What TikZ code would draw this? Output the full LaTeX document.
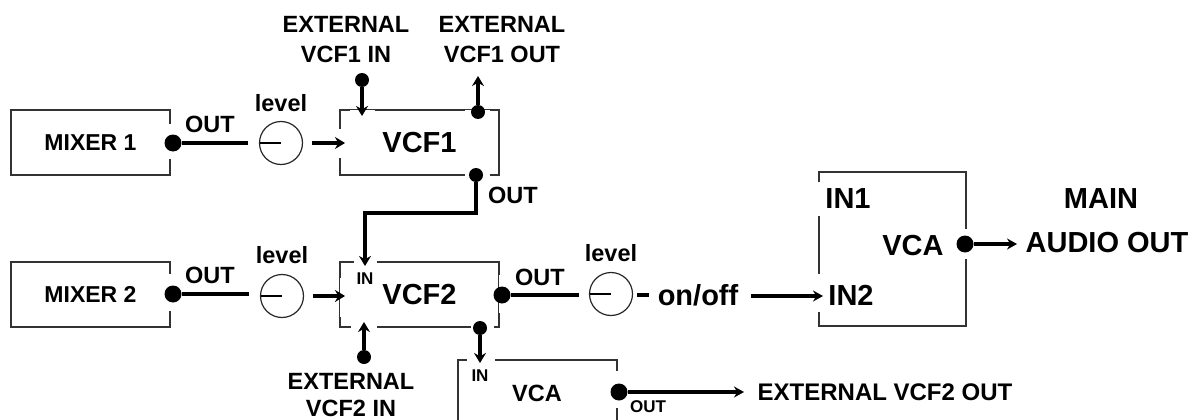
\documentclass[tikz,border=0pt]{standalone}
\usepackage{fontspec}
\setmainfont{Liberation Sans}
\usetikzlibrary{arrows.meta, positioning, shapes.geometric}

\begin{document}
\begin{tikzpicture}[
  x=1pt, y=-1pt,
  node distance=10pt,
  box/.style={
    rectangle, draw=black!80, line width=1.3pt,
    inner sep=0pt, outer sep=0pt,
    minimum width=159pt, minimum height=65pt,
    align=center, font=\bfseries\fontsize{23}{27}\selectfont
  },
  big/.style={inner sep=0pt, font=\bfseries\fontsize{29}{34}\selectfont},
  lab/.style={inner sep=0pt, align=center, font=\bfseries\fontsize{23.5}{30}\selectfont},
  tiny/.style={inner sep=0pt, font=\bfseries\fontsize{17}{20}\selectfont},
  knob/.style={circle, draw=black!85, line width=1.2pt, minimum size=43pt, inner sep=0pt, outer sep=0pt},
  dot/.style={circle, fill=black, minimum size=17pt, inner sep=0pt, outer sep=0pt},
  pin/.style={dot, minimum size=14pt},
  gap/.style={draw=white, line width=3pt},
  wire/.style={line width=4.6pt},
  arr/.style={-{Stealth[length=10pt, width=12pt]}, line width=4pt},
  thin arr/.style={-{Stealth[length=10pt, width=11pt]}, line width=3.4pt}
]
  \clip (0,0) rectangle (1194,420);

  % boxes
  \node[box] (mix1) at (90.5,142.5) {MIXER 1};
  \node[box, right=170pt of mix1] (vcf1) {\fontsize{29}{34}\selectfont VCF1};
  \node[box, below=87pt of mix1]  (mix2) {MIXER 2};
  \node[box, below=87pt of vcf1]  (vcf2) {\fontsize{29}{34}\selectfont VCF2};
  \node[box, minimum width=147pt, minimum height=154pt] (vca) at (892.5,249) {};
  \node[box, minimum height=100pt] (vcasub) at (537.5,410) {};

  % openings in the frames
  \draw[gap] (mix1.east |- 0,124) -- (mix1.east |- 0,159);
  \draw[gap] (mix2.east |- 0,274) -- (mix2.east |- 0,311);
  \draw[gap] (340,129) -- (340,158);
  \draw[gap] (350,111) -- (375,111);
  \draw[gap] (465,111) -- (490,111);
  \draw[gap] (465,175) -- (490,175);
  \draw[gap] (341,278) -- (341,317);
  \draw[gap] (354,262) -- (377,262);
  \draw[gap] (500,275) -- (500,313);
  \draw[gap] (351,327) -- (377,327);
  \draw[gap] (471,327) -- (494,327);
  \draw[gap] (467,360) -- (495,360);
  \draw[gap] (617,371) -- (617,408);
  \draw[gap] (819,182) -- (819,216);
  \draw[gap] (819,274) -- (819,312);
  \draw[gap] (966,229) -- (966,259);

  % level controls
  \node[knob] (knob1) at (281,143) {};
  \node[knob] (knob2) at (282,296) {};
  \node[knob] (knob3) at (611,294) {};
  \node[lab, above=10pt of knob1] {level};
  \node[lab, above=11pt of knob2] {level};
  \node[lab, above=11pt of knob3] {level};
  \draw[line width=1.2pt] (knob1.west) -- (knob1.center);
  \draw[line width=1.2pt] (knob2.west) -- (knob2.center);
  \draw[line width=1.2pt] (knob3.west) -- (knob3.center);

  % jacks
  \node[dot] (mix1out) at (173,143) {};
  \node[dot] (mix2out) at (173,294) {};
  \node[dot] (vcf2out) at (502,295) {};
  \node[dot] (subout)  at (619,392) {};
  \node[dot] (vcaout)  at (965,244) {};
  \node[pin] (ext1in)  at (362,80)  {};
  \node[pin] (ext1out) at (478,112) {};
  \node[pin] (vcf1out) at (476,175) {};
  \node[pin] (ext2in)  at (364,357) {};
  \node[pin] (vcf2bot) at (480,328) {};

  % labels
  \node[lab] (ext1inl)  at (346,40) {EXTERNAL\\VCF1 IN};
  \node[lab] (ext1outl) at (502,40) {EXTERNAL\\VCF1 OUT};
  \node[lab, font=\bfseries\fontsize{23.5}{27}\selectfont] (ext2inl)  at (351,395) {EXTERNAL\\VCF2 IN};
  \node[lab] at (210,124) {OUT};
  \node[lab] at (210,275) {OUT};
  \node[lab] at (513,195) {OUT};
  \node[lab] at (540,277) {OUT};
  \node[tiny] at (365,279) {IN};
  \node[tiny] at (480,376) {IN};
  \node[tiny] at (648,407) {OUT};
  \node[lab]  at (537,393) {VCA};
  \node[big] (vcafont) at (913,246) {VCA};
  \node[big] (in1) at (848,199) {IN1};
  \node[big] (in2) at (851,295) {IN2};
  \node[big] (mainl) at (1101,199) {MAIN};
  \node[big] (audio) at (1107,243) {AUDIO OUT};
  \node[big] (onoff) at (698,295) {on/off};
  \node[lab, font=\bfseries\fontsize{24}{30}\selectfont] (extout) at (885,392) {EXTERNAL VCF2 OUT};

  % free ends
  \coordinate (ext1tip) at (362,116);
  \coordinate (ext1top) at (478,76);
  \coordinate (bend)    at (365,213);
  \coordinate (vcf2tip) at (365,266);
  \coordinate (ext2tip) at (364,322);
  \coordinate (subtip)  at (480,363);
  \coordinate (vcf1tip) at (345,143);
  \coordinate (vcf2in)  at (345,296);
  \coordinate (dashl)   at (637,295);
  \coordinate (dashr)   at (649,295);
  \coordinate (onoffr)  at (751,296);
  \coordinate (in2tip)  at (823,296);
  \coordinate (subr)    at (744,392);
  \coordinate (audiotip) at (1017,244);

  % connectors
  \draw[wire, shorten >=12pt] (mix1out) -- (knob1);
  \draw[wire, shorten >=12pt] (mix2out) -- (mix2out -| knob2.west);
  \draw[wire, shorten >=11pt] (vcf2out) -- (vcf2out -| knob3.west);
  \draw[arr, shorten <=9pt] (knob1) -- (vcf1tip);
  \draw[arr, shorten <=9pt] (knob2) -- (vcf2in);
  \draw[arr] (ext1in) -- (ext1tip);
  \draw[arr] (ext1out) -- (ext1top);
  \draw[arr] (vcf1out) |- (bend) -- (vcf2tip);
  \draw[arr] (ext2in) -- (ext2tip);
  \draw[arr] (vcf2bot) -- (subtip);
  \draw[wire] (dashl) -- (dashr);
  \draw[thin arr] (onoffr) -- (in2tip);
  \draw[thin arr] (subout) -- (subr);
  \draw[thin arr] (vcaout) -- (audiotip);
\end{tikzpicture}
\end{document}
